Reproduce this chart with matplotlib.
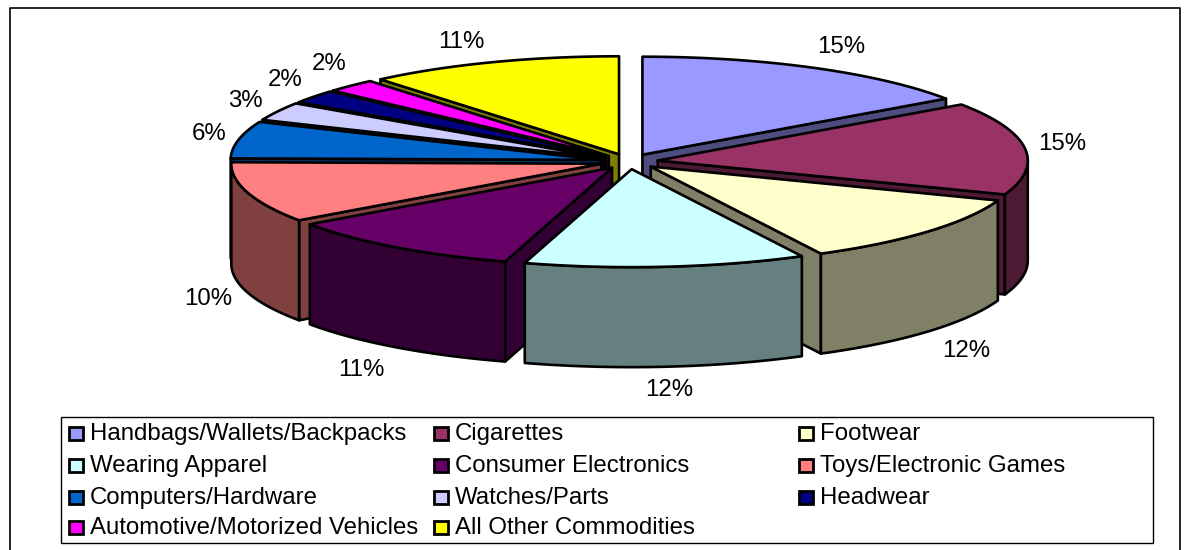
import numpy as np
import matplotlib.pyplot as plt
from matplotlib.patches import Polygon, Rectangle

categories = ['Handbags/Wallets/Backpacks', 'Cigarettes', 'Footwear', 'Wearing Apparel',
              'Consumer Electronics', 'Toys/Electronic Games', 'Computers/Hardware',
              'Watches/Parts', 'Headwear', 'Automotive/Motorized Vehicles', 'All Other Commodities']
shares = [15.1, 15.1, 11.6, 12.1, 10.4, 9.9, 6.0, 3.0, 2.2, 2.2, 11.0]
labels = ['15%', '15%', '12%', '12%', '11%', '10%', '6%', '3%', '2%', '2%', '11%']

colors = ['#9999FF', '#993366', '#FFFFCC', '#CCFFFF', '#660066', '#FF8080',
          '#0066CC', '#CCCCFF', '#000080', '#FF00FF', '#FFFF00']
label_pos = [(841, 47), (1062, 144), (966, 351), (669, 390), (361, 370), (208, 299),
             (209, 134), (245, 101), (285, 80), (329, 64), (461, 42)]

# pie geometry in pixels
cx, cy = 629, 161.5
rx, ry = 370, 98
depth = 100
explode = 29

plt.rcParams['font.family'] = 'Liberation Sans'
plt.rcParams['font.size'] = 17.3

fig = plt.figure(figsize=(11.92, 5.5), dpi=100)
ax = fig.add_axes([0, 0, 1, 1])
ax.set_xlim(0, 1192)
ax.set_ylim(550, 0)
ax.axis('off')


def shade(color):
    r, g, b = plt.matplotlib.colors.to_rgb(color)
    return (r / 2, g / 2, b / 2)


def arc(tip, a0, a1):
    t = np.linspace(a0, a1, 80)
    return np.column_stack([tip[0] + rx * np.sin(t), tip[1] - ry * np.cos(t)])


def draw_wall(pts, color, z):
    lower = pts + [0, depth]
    ax.add_patch(Polygon(np.vstack([pts, lower[::-1]]), closed=True, fc=shade(color),
                         ec='black', lw=1.9, joinstyle='round', zorder=z))


ends = np.cumsum(shares) / np.sum(shares) * 2 * np.pi
starts = np.concatenate([[0], ends[:-1]])
mids = (starts + ends) / 2

# paint from the back of the pie to the front
order = np.argsort(-np.abs(mids - np.pi))
for z, i in enumerate(order):
    a0, a1, m = starts[i], ends[i], mids[i]
    tip = np.array([cx + explode * np.sin(m), cy - explode * ry / rx * np.cos(m)])
    rim = arc(tip, a0, a1)
    zz = 2 + z * 0.1
    if np.sin(a0) < 0:
        draw_wall(np.array([tip, rim[0]]), colors[i], zz)
    if np.sin(a1) > 0:
        draw_wall(np.array([tip, rim[-1]]), colors[i], zz)
    lo, hi = max(a0, np.pi / 2), min(a1, 3 * np.pi / 2)
    if lo < hi:
        draw_wall(arc(tip, lo, hi), colors[i], zz)
    ax.add_patch(Polygon(np.vstack([tip, rim]), closed=True, fc=colors[i], ec='black',
                         lw=1.9, joinstyle='round', zorder=zz + 0.01))

for lab, (x, y) in zip(labels, label_pos):
    ax.text(x, y, lab, ha='center', va='center', color='black', zorder=10)

# chart frame, open at the bottom edge
ax.plot([10, 10, 1180, 1180], [551, 8, 8, 551], color='black', lw=1.2, zorder=1)

# legend box
ax.add_patch(Rectangle((60.5, 417), 1092.5, 125.5, fc='white', ec='black', lw=1, zorder=11))
col_x = [69, 434, 799]
row_y = [433, 465, 497, 527]
for i, name in enumerate(categories):
    x, y = col_x[i % 3], row_y[i // 3]
    ax.add_patch(Rectangle((x, y - 6.5), 14, 13, fc=colors[i], ec='black', lw=2, zorder=12))
    ax.text(x + 21, y + 1, name, ha='left', va='center', color='black', zorder=12)

fig.savefig('out.png', dpi=100)
